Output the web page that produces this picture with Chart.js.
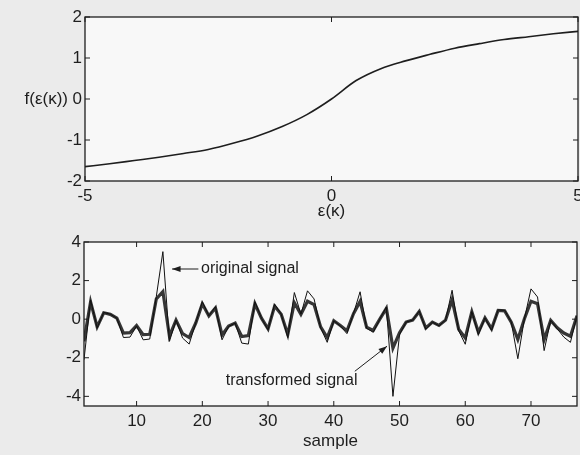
<!DOCTYPE html>
<html>
<head>
<meta charset="utf-8">
<script src="https://cdn.jsdelivr.net/npm/chart.js@4.4.1/dist/chart.umd.min.js"></script>
<style>
  body { margin: 0; background: #ebebeb; }
  #wrap { position: relative; width: 580px; height: 455px; overflow: hidden; }
  .box { position: absolute; left: 0; width: 580px; }
</style>
</head>
<body>
<div id="wrap">
  <div class="box" style="top:0;height:232px"><canvas id="curveChart" width="580" height="232"></canvas></div>
  <div class="box" style="top:232px;height:223px"><canvas id="signalChart" width="580" height="223"></canvas></div>
</div>
<script>
// curva f(e(k))
const epsValues = [-5, -4.5, -4, -3.5, -3, -2.5, -2, -1.5, -1, -0.5, 0, 0.5, 1, 1.5, 2, 2.5, 3, 3.5, 4, 4.5, 5];
const fValues = [-1.65, -1.58, -1.50, -1.42, -1.33, -1.23, -1.08, -0.90, -0.67, -0.38, 0, 0.45, 0.74, 0.93, 1.09, 1.24, 1.35, 1.45, 1.52, 1.59, 1.65];
const epsTicks = [-5, 0, 5];
const fTicks = [-2, -1, 0, 1, 2];

// señales
const samples = [2, 3, 4, 5, 6, 7, 8, 9, 10, 11, 12, 13, 14, 15, 16, 17, 18, 19, 20, 21, 22, 23, 24, 25, 26, 27, 28, 29, 30, 31, 32, 33, 34, 35, 36, 37, 38, 39, 40, 41, 42, 43, 44, 45, 46, 47, 48, 49, 50, 51, 52, 53, 54, 55, 56, 57, 58, 59, 60, 61, 62, 63, 64, 65, 66, 67, 68, 69, 70, 71, 72, 73, 74, 75, 76, 77];
const originalSignal = [
  -2.1, 1.0, -0.45, 0.35, 0.26, 0.05, -0.95, -0.93, -0.35, -1.07,
  -1.03, 1.17, 3.5, -1.15, -0.05, -0.98, -1.29, -0.2, 0.9, 0.17,
  0.65, -1.07, -0.38, -0.2, -1.24, -1.29, 0.9, 0.05, -0.55, 0.78,
  0.26, -0.95, 1.38, 0.26, 1.47, 1.05, -0.45, -1.2, -0.08, -0.35,
  -0.75, 0.3, 1.42, -0.47, -0.68, 0.0, 0.63, -4.0, -0.8, -0.15,
  -0.05, 0.42, -0.52, -0.15, -0.34, -0.05, 1.5, -0.6, -1.3, 0.4,
  -0.8, 0.07, -0.58, 0.48, 0.46, -0.15, -2.05, 0.02, 1.57, 1.15,
  -1.63, -0.06, -0.5, -0.93, -1.2, 0.19
];
const transformedSignal = [
  -1.15, 0.9, -0.4, 0.33, 0.25, 0.05, -0.72, -0.7, -0.33, -0.8,
  -0.78, 1.05, 1.43, -0.88, -0.05, -0.75, -0.95, -0.2, 0.8, 0.17,
  0.58, -0.82, -0.36, -0.2, -0.9, -0.85, 0.8, 0.05, -0.5, 0.68,
  0.25, -0.8, 0.85, 0.25, 0.93, 0.76, -0.4, -0.95, -0.08, -0.33,
  -0.6, 0.28, 0.92, -0.42, -0.58, 0.0, 0.56, -1.5, -0.7, -0.15,
  -0.05, 0.4, -0.46, -0.15, -0.32, -0.05, 1.0, -0.52, -0.97, 0.38,
  -0.68, 0.07, -0.5, 0.45, 0.43, -0.15, -1.05, 0.02, 0.93, 0.8,
  -1.06, -0.06, -0.45, -0.72, -0.88, 0.18
];
const sampleTicks = [10, 20, 30, 40, 50, 60, 70];
const signalTicks = [-4, -2, 0, 2, 4];

const fuente = { family: '"Liberation Sans", Arial, sans-serif', size: 17 };
const fuenteNota = { family: '"Liberation Sans", Arial, sans-serif', size: 16 };
const tinta = '#1e1e1e';

// marco tipo matlab: caja, marcas hacia dentro, textos y flechas
const marcoPlugin = {
  id: 'marco',
  beforeDraw(chart) {
    const { ctx, chartArea: a } = chart;
    ctx.save();
    ctx.fillStyle = '#f8f8f8';
    ctx.fillRect(a.left, a.top, a.right - a.left, a.bottom - a.top);
    ctx.restore();
  },
  afterDraw(chart, args, opts) {
    const { ctx, chartArea: a, scales } = chart;
    ctx.save();
    ctx.strokeStyle = tinta;
    ctx.lineWidth = 1.3;
    ctx.strokeRect(a.left, a.top, a.right - a.left, a.bottom - a.top);

    ctx.lineWidth = 1;
    ctx.beginPath();
    scales.x.ticks.forEach(t => {
      const px = scales.x.getPixelForValue(t.value);
      ctx.moveTo(px, a.bottom); ctx.lineTo(px, a.bottom - 5);
      ctx.moveTo(px, a.top); ctx.lineTo(px, a.top + 5);
    });
    scales.y.ticks.forEach(t => {
      const py = scales.y.getPixelForValue(t.value);
      ctx.moveTo(a.left, py); ctx.lineTo(a.left + 5, py);
      ctx.moveTo(a.right, py); ctx.lineTo(a.right - 5, py);
    });
    ctx.stroke();

    ctx.fillStyle = tinta;
    ctx.textBaseline = 'middle';

    if (opts.yTitle) {
      ctx.font = fuente.size + 'px ' + fuente.family;
      ctx.textAlign = 'right';
      ctx.fillText(opts.yTitle, a.left - 17, scales.y.getPixelForValue(0));
    }

    ctx.font = fuenteNota.size + 'px ' + fuenteNota.family;
    (opts.notes || []).forEach(n => {
      ctx.textAlign = n.align;
      ctx.fillText(n.text, scales.x.getPixelForValue(n.x), scales.y.getPixelForValue(n.y));
    });

    (opts.arrows || []).forEach(ar => {
      const x0 = scales.x.getPixelForValue(ar.from[0]);
      const y0 = scales.y.getPixelForValue(ar.from[1]);
      const x1 = scales.x.getPixelForValue(ar.to[0]);
      const y1 = scales.y.getPixelForValue(ar.to[1]);
      const ang = Math.atan2(y1 - y0, x1 - x0);
      ctx.beginPath();
      ctx.moveTo(x0, y0);
      ctx.lineTo(x1, y1);
      ctx.stroke();
      ctx.beginPath();
      ctx.moveTo(x1, y1);
      ctx.lineTo(x1 - 9 * Math.cos(ang - 0.35), y1 - 9 * Math.sin(ang - 0.35));
      ctx.lineTo(x1 - 9 * Math.cos(ang + 0.35), y1 - 9 * Math.sin(ang + 0.35));
      ctx.closePath();
      ctx.fill();
    });
    ctx.restore();
  }
};

function ejeX(min, max, ticks, titulo, alto, padTitulo) {
  return {
    type: 'linear', min: min, max: max,
    afterBuildTicks: s => { s.ticks = ticks.map(v => ({ value: v })); },
    afterFit: s => { s.height = alto; s.paddingLeft = 0; s.paddingRight = 0; },
    grid: { display: false, drawTicks: false },
    border: { display: false },
    ticks: { font: fuente, color: tinta, padding: 5, maxRotation: 0, autoSkip: false },
    title: { display: true, text: titulo, font: fuente, color: tinta, padding: { top: 0, bottom: padTitulo } }
  };
}

function ejeY(min, max, ticks, ancho) {
  return {
    type: 'linear', min: min, max: max,
    afterBuildTicks: s => { s.ticks = ticks.map(v => ({ value: v })); },
    afterFit: s => { s.width = ancho; s.paddingTop = 0; s.paddingBottom = 0; },
    grid: { display: false, drawTicks: false },
    border: { display: false },
    ticks: { font: fuente, color: tinta, padding: 3 }
  };
}

new Chart(document.getElementById('curveChart'), {
  type: 'line',
  data: {
    datasets: [{
      data: epsValues.map((v, i) => ({ x: v, y: fValues[i] })),
      borderColor: tinta,
      borderWidth: 1.6,
      pointRadius: 0,
      cubicInterpolationMode: 'monotone'
    }]
  },
  options: {
    responsive: false,
    animation: false,
    layout: { padding: { left: 0, top: 17, right: 2, bottom: 0 } },
    scales: {
      x: ejeX(-5, 5, epsTicks, 'ε(κ)', 51, 10),
      y: ejeY(-2, 2, fTicks, 85)
    },
    plugins: {
      legend: { display: false },
      tooltip: { enabled: false },
      marco: { yTitle: 'f(ε(κ))' }
    }
  },
  plugins: [marcoPlugin]
});

new Chart(document.getElementById('signalChart'), {
  type: 'line',
  data: {
    datasets: [{
      label: 'original signal',
      data: samples.map((s, i) => ({ x: s, y: originalSignal[i] })),
      borderColor: '#111111',
      borderWidth: 1,
      pointRadius: 0,
      tension: 0,
      order: 0
    }, {
      label: 'transformed signal',
      data: samples.map((s, i) => ({ x: s, y: transformedSignal[i] })),
      borderColor: '#363636',
      borderWidth: 3.2,
      pointRadius: 0,
      tension: 0,
      order: 1
    }]
  },
  options: {
    responsive: false,
    animation: false,
    layout: { padding: { left: 0, top: 10, right: 3, bottom: 0 } },
    scales: {
      x: ejeX(2, 77, sampleTicks, 'sample', 49, 3),
      y: ejeY(-4.5, 4, signalTicks, 84)
    },
    plugins: {
      legend: { display: false },
      tooltip: { enabled: false },
      marco: {
        notes: [
          { text: 'original signal', x: 19.8, y: 2.6, align: 'left' },
          { text: 'transformed signal', x: 43.6, y: -3.2, align: 'right' }
        ],
        arrows: [
          { from: [19.4, 2.6], to: [15.4, 2.6] },
          { from: [43.2, -2.7], to: [48.1, -1.4] }
        ]
      }
    }
  },
  plugins: [marcoPlugin]
});
</script>
</body>
</html>
